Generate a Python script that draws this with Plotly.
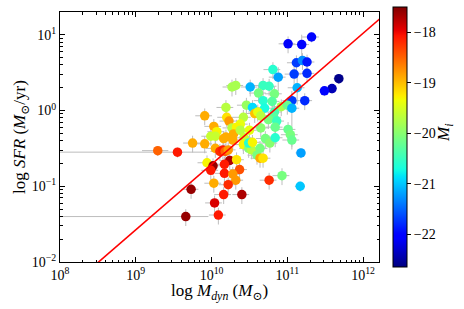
import numpy as np
import plotly.graph_objects as go

# log10 of dynamical mass (M_sun)
log_mdyn = [11.32, 11.01, 11.19, 11.12, 11.20, 11.26, 10.81, 11.09, 11.26, 10.88,
            11.68, 11.59, 11.49, 11.13, 10.27, 10.32, 10.51, 10.68, 10.76, 10.62,
            10.83, 11.06, 11.23, 10.68, 10.80, 10.46, 10.54, 10.70, 10.19, 10.92,
            11.00, 11.06, 10.57, 10.61, 10.83, 10.82, 9.91, 10.20, 10.42, 10.23,
            10.65, 10.75, 10.86, 10.03, 10.38, 10.27, 10.33, 10.84, 11.01, 11.04,
            11.06, 9.99, 10.07, 10.05, 10.16, 10.19, 10.29, 10.38, 10.28, 10.43,
            10.42, 10.49, 10.53, 10.64, 10.71, 10.77, 10.84, 10.49, 10.54, 9.75,
            9.91, 10.05, 10.11, 10.15, 10.18, 10.22, 9.29, 9.55, 11.18, 10.24,
            10.33, 9.94, 10.02, 9.99, 10.17, 10.37, 10.17, 10.28, 10.32, 10.03,
            10.22, 10.16, 10.40, 10.04, 10.09, 9.73, 9.66, 10.60, 10.64, 10.68,
            10.76, 10.93, 11.17, 10.50, 10.65]

# log10 of star formation rate (M_sun / yr)
log_sfr = [0.97, 0.88, 0.87, 0.63, 0.66, 0.64, 0.54, 0.48, 0.49, 0.44,
           0.42, 0.29, 0.26, 0.30, 0.31, 0.33, 0.31, 0.33, 0.32, 0.23,
           0.22, 0.13, 0.13, 0.13, 0.12, 0.07, 0.04, 0.03, 0.04, 0.05,
           0.07, 0.03, -0.04, -0.02, -0.02, -0.09, -0.07, -0.09, -0.09, -0.14,
           -0.07, -0.12, -0.14, -0.21, -0.18, -0.23, -0.22, -0.22, -0.25, -0.32,
           -0.39, -0.34, -0.28, -0.34, -0.37, -0.35, -0.31, -0.26, -0.39, -0.36,
           -0.45, -0.50, -0.52, -0.50, -0.37, -0.43, -0.36, -0.43, -0.42, -0.43,
           -0.44, -0.50, -0.54, -0.52, -0.54, -0.52, -0.53, -0.55, -0.56, -0.66,
           -0.65, -0.69, -0.73, -0.79, -0.71, -0.78, -0.83, -0.84, -0.92, -0.96,
           -0.98, -1.11, -1.11, -1.22, -1.38, -1.04, -1.40, -0.59, -0.63, -0.63,
           -0.92, -0.86, -1.00, -0.26, -0.23]

# absolute i-band magnitude (colour)
mag_i = [-22.0, -22.1, -22.0, -21.7, -21.3, -21.9, -20.6, -21.7, -21.8, -21.2,
         -22.6, -22.4, -22.0, -21.1, -19.8, -19.8, -21.1, -20.5, -20.5, -20.1,
         -20.1, -21.7, -21.8, -20.6, -20.3, -19.9, -20.9, -20.7, -19.7, -19.8,
         -20.2, -21.1, -19.0, -19.4, -20.4, -20.3, -18.9, -19.2, -19.7, -18.8,
         -19.7, -20.1, -20.5, -18.9, -19.4, -19.7, -19.3, -20.2, -20.2, -20.1,
         -20.2, -19.6, -19.3, -19.6, -18.9, -18.9, -18.9, -19.7, -18.9, -19.6,
         -19.3, -20.0, -19.7, -20.1, -20.1, -20.0, -20.6, -20.6, -19.3, -18.9,
         -18.9, -18.9, -18.2, -18.1, -18.5, -18.8, -18.5, -18.1, -21.2, -17.7,
         -19.2, -19.3, -17.6, -18.1, -18.1, -18.4, -18.1, -18.8, -18.8, -18.9,
         -18.2, -18.1, -17.7, -17.9, -18.1, -17.6, -17.6, -20.1, -18.9, -19.2,
         -18.2, -20.1, -21.0, -19.4, -20.0]

# fractional errors (linear, symmetric)
mdyn_err_frac = [0.25, 0.25, 0.25, 0.25, 0.25, 0.25, 0.25, 0.25, 0.25, 0.25,
                 0.15, 0.15, 0.15, 0.25, 0.25, 0.25, 0.25, 0.25, 0.25, 0.25,
                 0.25, 0.25, 0.25, 0.25, 0.25, 0.25, 0.25, 0.25, 0.25, 0.25,
                 0.25, 0.25, 0.25, 0.25, 0.25, 0.25, 0.25, 0.25, 0.25, 0.25,
                 0.25, 0.25, 0.25, 0.25, 0.25, 0.25, 0.25, 0.25, 0.25, 0.25,
                 0.25, 0.25, 0.25, 0.25, 0.25, 0.25, 0.25, 0.25, 0.25, 0.25,
                 0.25, 0.25, 0.25, 0.25, 0.25, 0.25, 0.25, 0.25, 0.25, 0.25,
                 0.25, 0.25, 0.25, 0.25, 0.25, 0.25, 0.38, 1.45, 0.15, 0.25,
                 0.25, 0.25, 0.25, 0.25, 0.25, 0.25, 0.25, 0.25, 0.25, 0.25,
                 0.25, 0.25, 0.25, 0.25, 0.25, 0.25, 0.99, 0.25, 0.25, 0.25,
                 0.25, 0.25, 0.15, 0.25, 0.25]
sfr_err_frac = [0.15, 0.25, 0.35, 0.25, 0.25, 0.25, 0.25, 0.4, 0.25, 0.35,
                0.15, 0.15, 0.15, 0.4, 0.25, 0.25, 0.25, 0.25, 0.25, 0.25,
                0.25, 0.25, 0.25, 0.25, 0.25, 0.25, 0.25, 0.25, 0.25, 0.25,
                0.25, 0.69, 0.25, 0.25, 0.25, 0.25, 0.25, 0.25, 0.25, 0.25,
                0.25, 0.25, 0.25, 0.25, 0.25, 0.25, 0.25, 0.25, 0.25, 0.25,
                0.25, 0.25, 0.25, 0.25, 0.25, 0.25, 0.25, 0.25, 0.25, 0.25,
                0.25, 0.25, 0.25, 0.25, 0.25, 0.25, 0.25, 0.25, 0.25, 0.25,
                0.25, 0.25, 0.25, 0.25, 0.25, 0.25, 0.15, 0.15, 0.15, 0.25,
                0.25, 0.25, 0.25, 0.25, 0.25, 0.25, 0.25, 0.25, 0.25, 0.25,
                0.25, 0.25, 0.25, 0.25, 0.25, 0.25, 0.25, 0.25, 0.25, 0.25,
                0.25, 0.25, 0.15, 0.25, 0.25]

# relation: log SFR = slope * log Mdyn + intercept
fit_slope = 0.865
fit_intercept = -9.36

x_tick_exps = [8, 9, 10, 11, 12]
y_tick_exps = [-2, -1, 0, 1]
cb_ticks = [-18, -19, -20, -21, -22]

x_range_log = [8.0, 12.21]
y_range_log = [-2.0, 1.30]
cb_min, cb_max = -22.65, -17.5

# ---------------------------------------------------------------
def pow_label(e):
    return '10<sup>%s</sup>' % (str(e).replace('-', '\u2212'))

mdyn = 10 ** np.array(log_mdyn)
sfr = 10 ** np.array(log_sfr)
ex = mdyn * np.array(mdyn_err_frac)
ey = sfr * np.array(sfr_err_frac)
ex_minus = np.minimum(ex, mdyn * 0.9999)
ey_minus = np.minimum(ey, sfr * 0.9999)

# matplotlib 'jet' colormap
_r = [(0, 0), (0.35, 0), (0.66, 1), (0.89, 1), (1, 0.5)]
_g = [(0, 0), (0.125, 0), (0.375, 1), (0.64, 1), (0.91, 0), (1, 0)]
_b = [(0, 0.5), (0.11, 1), (0.34, 1), (0.65, 0), (1, 0)]
def _ch(seg, t):
    return np.interp(t, [s[0] for s in seg], [s[1] for s in seg])
jet = []
for t in np.linspace(0, 1, 101):
    jet.append([float(t), 'rgb(%d,%d,%d)' % (round(255 * _ch(_r, t)), round(255 * _ch(_g, t)), round(255 * _ch(_b, t)))])

serif = "Liberation Serif, Times New Roman, DejaVu Serif, serif"

fig = go.Figure()

fig.add_trace(go.Scatter(
    x=mdyn, y=sfr, mode='markers',
    marker=dict(size=9.5, color=mag_i, colorscale=jet, cmin=cb_min, cmax=cb_max,
                line=dict(width=0),
                colorbar=dict(
                    x=1.0439, xanchor='left', xref='paper', xpad=0, ypad=0,
                    y=0.5, yanchor='middle',
                    thickness=14, thicknessmode='pixels',
                    len=260, lenmode='pixels',
                    outlinewidth=1, outlinecolor='black',
                    ticks='outside', ticklen=4, tickcolor='black',
                    tickvals=cb_ticks,
                    ticktext=[str(v).replace('-', '\u2212') for v in cb_ticks],
                    tickfont=dict(family=serif, size=14, color='black'))),
    error_x=dict(type='data', array=ex, arrayminus=ex_minus, color='#bdbdbd', thickness=1, width=0),
    error_y=dict(type='data', array=ey, arrayminus=ey_minus, color='#bdbdbd', thickness=1, width=0),
    showlegend=False, hoverinfo='skip'))

lx = np.array([7.9, 12.3])
fig.add_trace(go.Scatter(
    x=10 ** lx, y=10 ** (fit_slope * lx + fit_intercept), mode='lines',
    line=dict(color='#ff0000', width=1.6), showlegend=False, hoverinfo='skip'))

axis_common = dict(
    type='log', showgrid=False, zeroline=False,
    showline=True, linecolor='black', linewidth=1, mirror='ticks',
    ticks='inside', ticklen=5, tickcolor='black', tickwidth=1,
    tickfont=dict(family=serif, size=14, color='black'),
    minor=dict(ticks='inside', ticklen=2.5, tickcolor='black', dtick='D1', showgrid=False),
)

fig.update_xaxes(range=x_range_log,
                 tickvals=[10.0 ** e for e in x_tick_exps],
                 ticktext=[pow_label(e) for e in x_tick_exps],
                 **axis_common)
fig.update_yaxes(range=y_range_log,
                 tickvals=[10.0 ** e for e in y_tick_exps],
                 ticktext=[pow_label(e) for e in y_tick_exps],
                 **axis_common)

title_font = dict(family=serif, size=17, color='black')
fig.update_layout(
    width=464, height=309,
    margin=dict(l=60, r=85, t=12, b=47),
    paper_bgcolor='white', plot_bgcolor='white',
    font=dict(family=serif, color='black'),
    annotations=[
        dict(text='log <i>M<sub>dyn</sub></i> (<i>M</i><sub>⊙</sub>)', xref='paper', yref='paper',
             x=0.5, y=-0.12, xanchor='center', yanchor='middle', showarrow=False, font=title_font),
        dict(text='log <i>SFR</i> (<i>M</i><sub>⊙</sub>/yr)', xref='paper', yref='paper',
             x=-0.122, y=0.5, xanchor='center', yanchor='middle', textangle=-90,
             showarrow=False, font=title_font),
        dict(text='<i>M<sub>i</sub></i>', xref='paper', yref='paper',
             x=1.207, y=0.516, xanchor='center', yanchor='middle', textangle=-90,
             showarrow=False, font=title_font),
    ],
)

fig.write_html("out.html",
               config={'displayModeBar': False},
               post_script="document.body.style.margin='0';document.body.style.padding='0';")
